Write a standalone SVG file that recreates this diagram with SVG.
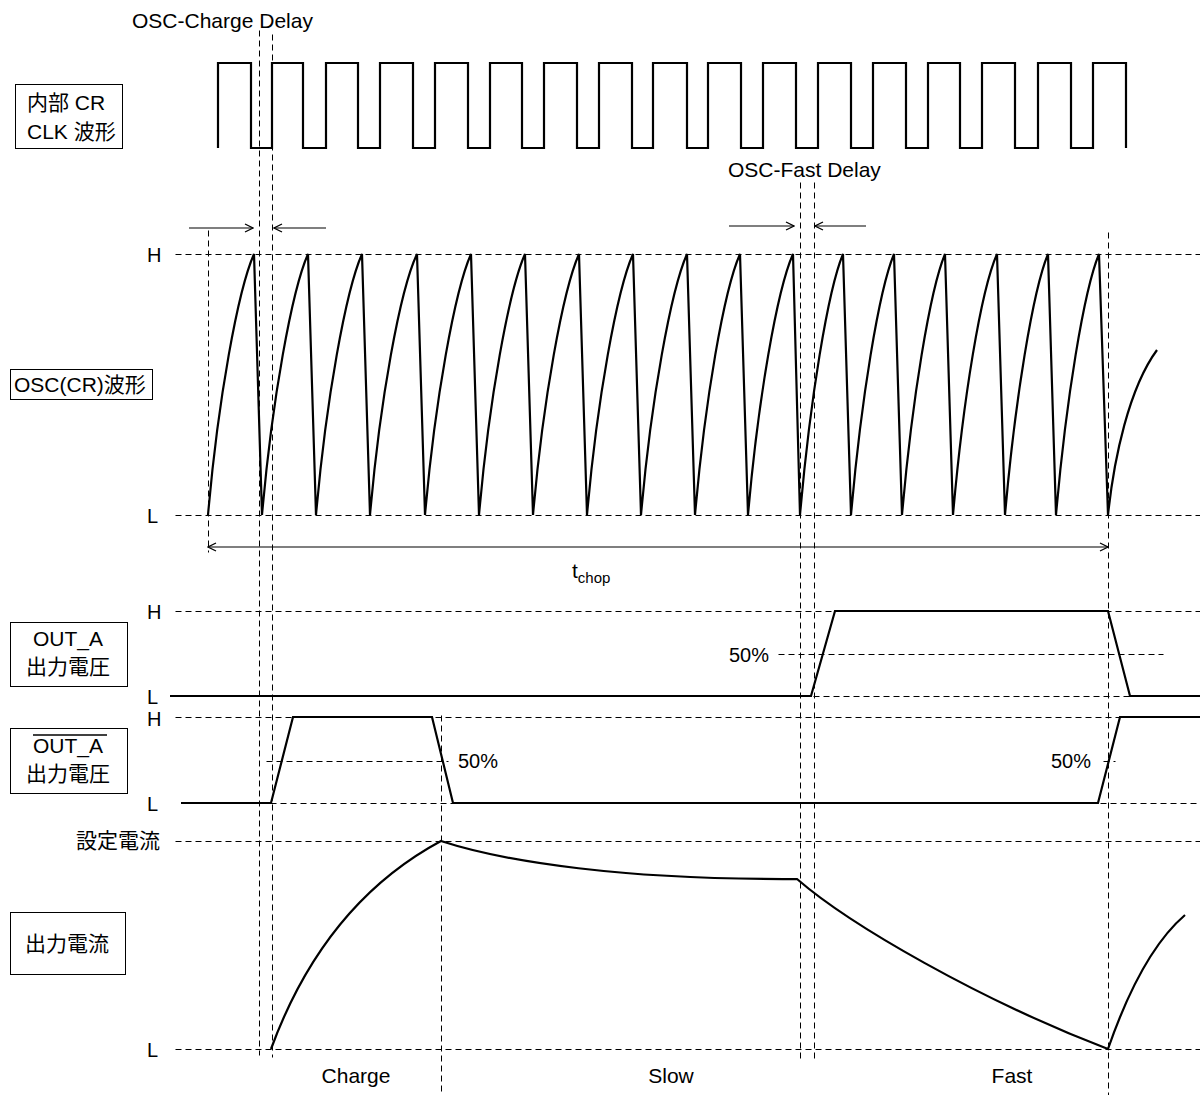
<svg xmlns="http://www.w3.org/2000/svg" width="1200" height="1095" viewBox="0 0 1200 1095">
<style>
text{font-family:"Liberation Sans","Noto Sans CJK JP",sans-serif;font-size:21px;fill:#000}
.s{font-size:20px}
.d{stroke:#000;stroke-width:1;stroke-dasharray:6,4;fill:none}
.w{stroke:#000;stroke-width:2.2;fill:none;stroke-linejoin:miter}
.b{fill:#fff;stroke:#000;stroke-width:1}
.a{stroke:#000;stroke-width:1.2;fill:none}
</style>
<defs>
<marker id="ah" viewBox="0 0 10 10" refX="9" refY="5" markerWidth="10" markerHeight="10" markerUnits="userSpaceOnUse" orient="auto-start-reverse">
<path d="M1,1 L9,5 L1,9" fill="none" stroke="#000" stroke-width="1.3"/>
</marker>
</defs>
<rect width="1200" height="1095" fill="#fff"/>

<g id="guides" transform="translate(0.5,0.5)">
<line class="d" x1="175" y1="254" x2="1200" y2="254"/>
<line class="d" x1="175" y1="515" x2="1200" y2="515"/>
<line class="d" x1="175" y1="611" x2="1200" y2="611"/>
<line class="d" x1="813" y1="696" x2="1130" y2="696"/>
<line class="d" x1="778" y1="654" x2="1163" y2="654"/>
<line class="d" x1="175" y1="717" x2="1200" y2="717"/>
<line class="d" x1="270" y1="803" x2="453" y2="803"/>
<line class="d" x1="1100" y1="803" x2="1200" y2="803"/>
<line class="d" x1="266" y1="761" x2="448" y2="761"/>
<line class="d" x1="1103" y1="761" x2="1115" y2="761"/>
<line class="d" x1="175" y1="841" x2="1200" y2="841"/>
<line class="d" x1="175" y1="1049" x2="1200" y2="1049"/>
<line class="d" x1="259" y1="30" x2="259" y2="1055"/>
<line class="d" x1="272" y1="34" x2="272" y2="1057"/>
<line class="d" x1="800" y1="182" x2="800" y2="1058"/>
<line class="d" x1="814" y1="182" x2="814" y2="1058"/>
<line class="d" x1="208" y1="230" x2="208" y2="552"/>
<line class="d" x1="1108" y1="232" x2="1108" y2="1095"/>
<line class="d" x1="441" y1="715" x2="441" y2="1095"/>
</g>

<g id="connectors">
<line class="a" x1="189" y1="228" x2="253" y2="228" marker-end="url(#ah)"/>
<line class="a" x1="326" y1="228" x2="274" y2="228" marker-end="url(#ah)"/>
<line class="a" x1="729" y1="226" x2="794" y2="226" marker-end="url(#ah)"/>
<line class="a" x1="866" y1="226" x2="815" y2="226" marker-end="url(#ah)"/>
<line class="a" x1="208" y1="547" x2="1108" y2="547" marker-start="url(#ah)" marker-end="url(#ah)"/>
</g>

<g id="clk">
<path class="w" d="M218,148 V63 H251 V148 H272 V63 H303 V148 H326 V63 H358 V148 H380 V63 H413 V148 H435 V63 H468 V148 H490 V63 H522 V148 H544 V63 H577 V148 H599 V63 H632 V148 H653 V63 H687 V148 H708 V63 H741 V148 H763 V63 H796 V148 H818 V63 H851 V148 H873 V63 H906 V148 H928 V63 H960 V148 H982 V63 H1015 V148 H1038 V63 H1071 V148 H1093 V63 H1126 V148"/>
</g>

<g id="osc">
<path class="w" d="M208,515 C218,400 238,290 254,254 L262,515 C272,400 292,290 308,254 L316,515 C326,400 346,290 362,254 L370,515 C380,400 400,290 417,254 L425,515 C435,400 455,290 471,254 L479,515 C489,400 509,290 525,254 L533,515 C543,400 563,290 579,254 L587,515 C597,400 617,290 633,254 L641,515 C651,400 671,290 687,254 L695,515 C705,400 724,290 740,254 L748,515 C758,400 777,290 793,254 L800,515 C810,400 828,290 843,254 L851,515 C861,400 879,290 894,254 L902,515 C912,400 930,290 945,254 L953,515 C963,400 981,290 997,254 L1005,515 C1015,400 1033,290 1048,254 L1056,515 C1066,400 1084,290 1099,254 L1108,515 C1114,458 1129,388 1157,350"/>
</g>

<g id="outa">
<path class="w" d="M170,696 H811 L835,611 H1108 L1130,696 H1200"/>
</g>

<g id="outabar">
<path class="w" d="M181,803 H271 L293,717 H432 L453,803 H1098 L1120,717 H1200"/>
</g>

<g id="current">
<path class="w" d="M271,1049 C300,970 350,890 441,841 C505,862 625,880 797,879 C850,925 980,1000 1108,1049 C1125,1000 1150,945 1185,915"/>
</g>

<g id="labels">
<text x="132" y="28">OSC-Charge Delay</text>
<text x="728" y="177">OSC-Fast Delay</text>
<text class="s" x="147" y="262">H</text>
<text class="s" x="147" y="523">L</text>
<text class="s" x="147" y="619">H</text>
<text class="s" x="147" y="704">L</text>
<text class="s" x="147" y="726">H</text>
<text class="s" x="147" y="811">L</text>
<text class="s" x="147" y="1057">L</text>
<text x="160" y="848" text-anchor="end">設定電流</text>
<text class="s" x="729" y="662">50%</text>
<text class="s" x="458" y="768">50%</text>
<text class="s" x="1051" y="768">50%</text>
<text x="572" y="578">t<tspan font-size="15" dy="5">chop</tspan></text>
<text x="356" y="1083" text-anchor="middle">Charge</text>
<text x="671" y="1083" text-anchor="middle">Slow</text>
<text x="1012" y="1083" text-anchor="middle">Fast</text>
</g>

<g id="box-clk">
<rect class="b" x="15.5" y="84.5" width="107" height="64"/>
<text x="27" y="110">内部 CR</text>
<text x="27" y="139">CLK 波形</text>
</g>
<g id="box-osc">
<rect class="b" x="10.5" y="369.5" width="142" height="30"/>
<text x="14" y="392">OSC(CR)波形</text>
</g>
<g id="box-outa">
<rect class="b" x="10.5" y="622.5" width="117" height="64"/>
<text x="68" y="646" text-anchor="middle">OUT_A</text>
<text x="68" y="674" text-anchor="middle">出力電圧</text>
</g>
<g id="box-outabar">
<rect class="b" x="10.5" y="728.5" width="117" height="65"/>
<line x1="33" y1="735" x2="107" y2="735" stroke="#000" stroke-width="1.3"/>
<text x="68" y="753" text-anchor="middle">OUT_A</text>
<text x="68" y="781" text-anchor="middle">出力電圧</text>
</g>
<g id="box-current">
<rect class="b" x="10.5" y="912.5" width="115" height="62"/>
<text x="67" y="951" text-anchor="middle">出力電流</text>
</g>
</svg>
